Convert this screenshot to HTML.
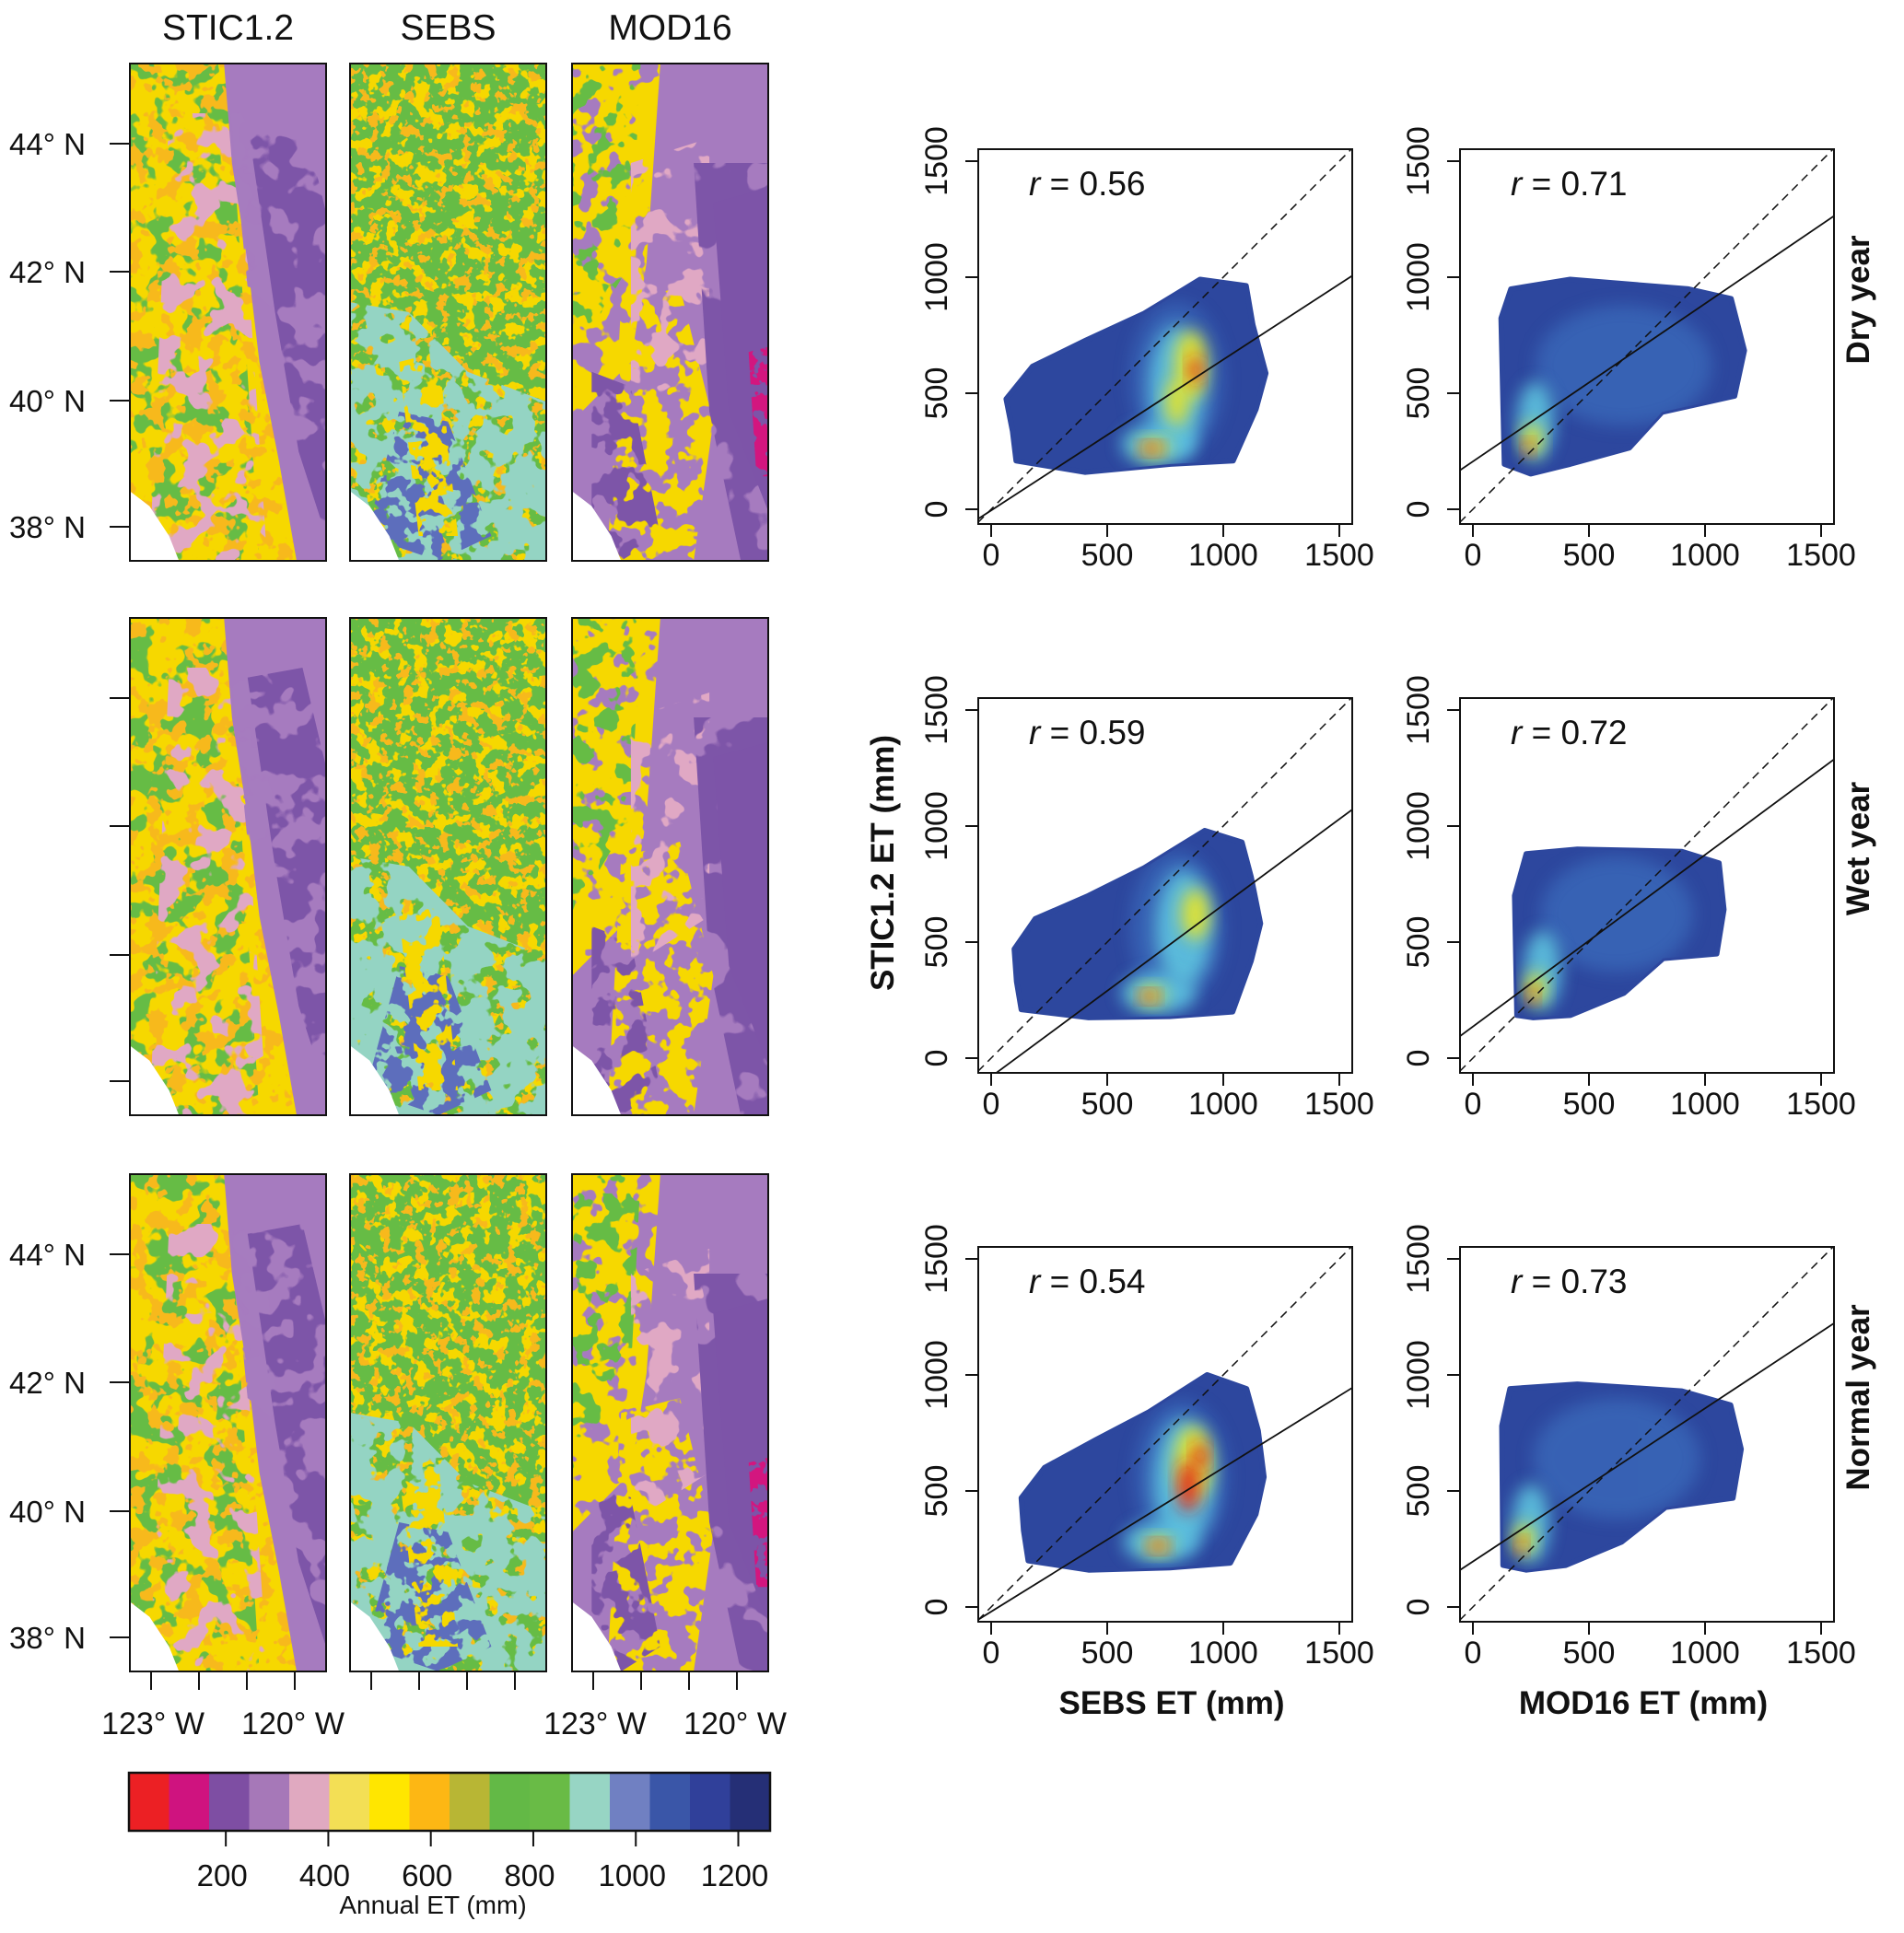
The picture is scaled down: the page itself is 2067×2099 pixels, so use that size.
<!DOCTYPE html>
<html><head><meta charset="utf-8"><title>ET comparison</title>
<style>
html,body{margin:0;padding:0;background:#fff;}
svg{display:block;font-family:"Liberation Sans",Arial,sans-serif;}
</style></head>
<body>
<svg id="fig" width="2067" height="2099" viewBox="0 0 2067 2099" xmlns="http://www.w3.org/2000/svg">
<defs>
<filter id="blur" x="-50%" y="-50%" width="200%" height="200%"><feGaussianBlur stdDeviation="9"/></filter>
</defs>
</svg>
<script>
// ---------- DATA ----------
const mapTitles = ["STIC1.2","SEBS","MOD16"];
const latLabels = ["44° N","42° N","40° N","38° N"];
const lonLabels = ["123° W","120° W"];
const cbColors = ["#ec2024","#cf137f","#7e4ea3","#a678b8","#e0a9c0","#f3df55","#ffe600","#fdb714","#b8b634","#63b946","#69bb46","#97d5c4","#7080c2","#3a56a8","#30409a","#252f76"];
const cbTickValues = [200,400,600,800,1000,1200];
const cbMin = 11, cbMax = 1262;
const axisTicks = [0,500,1000,1500];
const rowLabels = ["Dry year","Wet year","Normal year"];
const rValues = [["0.56","0.71"],["0.59","0.72"],["0.54","0.73"]];
const fitSlope = [[0.65,0.68],[0.74,0.74],[0.62,0.66]];
const fitIntercept = [[-5,206],[-80,136],[-20,196]];
const cloud00 = [[65,475],[178,615],[405,726],[660,844],[900,990],[1098,963],[1127,795],[1183,586],[1141,432],[1042,209],[773,195],[405,160],[108,209],[93,335]];
const cloud01 = [[136,195],[122,823],[164,949],[419,990],[928,949],[1112,907],[1169,684],[1127,488],[815,419],[674,265],[419,195],[249,153]];
const cloud10 = [[100,470],[190,600],[420,700],[660,820],[920,980],[1080,930],[1120,780],[1160,580],[1120,420],[1040,200],[770,180],[420,175],[130,210],[110,330]];
const cloud11 = [[190,185],[180,700],[230,880],[450,900],[900,890],[1060,840],[1081,640],[1050,450],[820,430],[650,280],[420,185],[260,175]];
const cloud20 = [[130,470],[230,600],[450,720],[680,840],[930,1000],[1100,940],[1150,760],[1175,560],[1140,400],[1030,190],[770,170],[420,160],[160,200],[140,330]];
const cloud21 = [[130,180],[125,780],[160,940],[450,960],[900,930],[1110,870],[1155,680],[1120,470],[830,430],[640,280],[400,180],[230,160]];
const clouds = [[cloud00,cloud01],[cloud10,cloud11],[cloud20,cloud21]];
// hot spots: [x, y, rx, ry, level]
const hot00 = [[800,560,200,330,0],[800,520,120,270,1],[720,280,160,90,1],[860,620,70,150,2],[800,460,50,100,2],[880,600,28,60,3],[700,265,70,40,2],[690,262,40,22,3]];
const hot01 = [[650,620,380,260,0],[270,380,80,170,1],[255,300,45,70,2],[238,265,20,28,3]];
const hot10 = [[800,560,200,330,0],[830,560,120,250,1],[720,280,160,90,1],[880,620,60,110,2],[690,270,60,40,2],[680,265,35,22,3]];
const hot11 = [[620,620,330,250,0],[300,380,80,170,1],[270,300,45,70,2],[258,270,20,28,3]];
const hot20 = [[820,560,200,330,0],[830,540,130,270,1],[730,280,160,90,1],[870,620,80,160,2],[850,520,45,110,3],[900,650,30,60,3],[720,265,60,38,2],[720,262,38,22,3]];
const hot21 = [[620,640,360,260,0],[250,360,80,170,1],[220,290,45,70,2],[210,262,20,28,3]];
const hots = [[hot00,hot01],[hot10,hot11],[hot20,hot21]];
const hotColors = ["#3f78c6","#5ec4df","#ece624","#e31f1c"];

// ---------- HELPERS ----------
const svg = document.getElementById('fig');
const NS = "http://www.w3.org/2000/svg";
const defs = svg.querySelector('defs');
function mk(tag, attrs, parent){
  const e = document.createElementNS(NS, tag);
  for (const k in attrs) e.setAttribute(k, attrs[k]);
  (parent||svg).appendChild(e);
  return e;
}
function txt(s, attrs, parent){ const e = mk('text', attrs, parent); e.textContent = s; return e; }

let fid = 0;
function mottle(freq, seed, coverage){
  const id = 'mf' + (fid++);
  const f = mk('filter', {id:id, x:'-5%', y:'-5%', width:'110%', height:'110%'}, defs);
  mk('feTurbulence', {type:'fractalNoise', baseFrequency:freq, numOctaves:'3', seed:seed, result:'n'}, f);
  const b = 0.5 + (coverage-0.5)*0.35;
  mk('feColorMatrix', {in:'n', type:'matrix', values:'0 0 0 0 0 0 0 0 0 0 0 0 0 0 0 0 0 0 -30 '+(30*b).toFixed(2), result:'a'}, f);
  mk('feComposite', {in:'SourceGraphic', in2:'a', operator:'in'}, f);
  return 'url(#'+id+')';
}

// ---------- MAPS ----------
const mapCols = [141,380,621];
const mapRows = [69,671,1275];
const mapW = 213, mapH = 540;
const Y = '#f6d800', G = '#66bc45', O = '#f7b91e', P = '#a67bbf', DP = '#7d54a8', PK = '#e0a8c4', CY = '#94d4c3', BL = '#5d6ebc', MG = '#d3157f';

function poly(g, pts, fill, x, y, filt){
  const p = mk('polygon', {points: pts.map(q => (x+q[0]*mapW).toFixed(1)+','+(y+q[1]*mapH).toFixed(1)).join(' '), fill: fill}, g);
  if (filt) p.setAttribute('filter', filt);
  return p;
}
function drawMap(kind, x, y, r){
  const g = mk('g', {});
  
  
  const cid = 'clip'+kind+'_'+r;
  const cp = mk('clipPath', {id:cid}, defs);
  mk('rect', {x:x, y:y, width:mapW, height:mapH}, cp);
  g.setAttribute('clip-path', 'url(#'+cid+')');
  const s = 10 + kind*7 + r*3;
  const full = [[0,0],[1,0],[1,1],[0,1]];
  if (kind === 0){
    poly(g, full, Y, x, y);
    poly(g, [[0,0],[0.5,0],[0.66,1],[0,1]], G, x, y, mottle(0.03, s, 0.45));
    poly(g, full, O, x, y, mottle(0.05, s+1, 0.35));
    poly(g, [[0.2,0.1],[0.55,0.1],[0.7,1],[0.1,1]], PK, x, y, mottle(0.03, s+2, 0.3));
    poly(g, [[0.48,0],[1,0],[1,1],[0.85,1],[0.76,0.8],[0.66,0.6],[0.6,0.4],[0.52,0.2]], P, x, y);
    poly(g, [[0.5,0.05],[0.7,0.2],[0.75,0.5],[0.6,0.45],[0.55,0.25]], P, x, y, mottle(0.03, s+6, 0.6));
    poly(g, [[0.6,0.12],[0.88,0.1],[1,0.3],[1,0.95],[0.86,0.78],[0.74,0.5]], DP, x, y, mottle(0.025, s+3, 0.65));
  } else if (kind === 1){
    poly(g, full, G, x, y);
    poly(g, full, Y, x, y, mottle(0.06, s, 0.35));
    poly(g, full, O, x, y, mottle(0.08, s+1, 0.25));
    poly(g, [[0,0.48],[0.3,0.5],[0.6,0.62],[1,0.68],[1,1],[0,1]], CY, x, y, mottle(0.04, s+2, 0.75));
    poly(g, [[0.25,0.7],[0.5,0.72],[0.72,0.95],[0.45,1],[0.08,0.95]], BL, x, y, mottle(0.05, s+3, 0.55));
    poly(g, [[0.25,0.6],[0.45,0.58],[0.55,0.95],[0.35,0.95]], Y, x, y, mottle(0.05, s+4, 0.45));
  } else {
    poly(g, full, P, x, y);
    poly(g, [[0,0],[0.45,0],[0.38,0.4],[0.3,0.6],[0,0.72]], Y, x, y, mottle(0.035, s, 0.8));
    poly(g, [[0,0],[0.35,0],[0.3,0.4],[0,0.6]], G, x, y, mottle(0.04, s+1, 0.35));
    poly(g, [[0.25,0.48],[0.55,0.45],[0.72,0.72],[0.62,1],[0.18,1]], Y, x, y, mottle(0.04, s+2, 0.55));
    poly(g, [[0.3,0.2],[0.7,0.15],[0.7,0.6],[0.3,0.7]], PK, x, y, mottle(0.03, s+3, 0.3));
    poly(g, [[0.62,0.2],[1,0.2],[1,1],[0.86,1],[0.7,0.7]], DP, x, y, mottle(0.02, s+7, 0.8));
    poly(g, [[0.72,0.28],[1,0.25],[1,0.9],[0.8,0.7]], DP, x, y);
    poly(g, [[0.1,0.62],[0.3,0.65],[0.45,0.95],[0.25,1],[0.1,0.9]], DP, x, y, mottle(0.035, s+4, 0.5));
    if (r !== 1) poly(g, [[0.9,0.58],[1,0.57],[1,0.83],[0.94,0.83]], MG, x, y, mottle(0.06, s+5, 0.75));
  }
  poly(g, [[0,0.86],[0.1,0.89],[0.2,0.95],[0.25,1],[0,1]], '#ffffff', x, y);
  mk('rect', {x:x, y:y, width:mapW, height:mapH, fill:'none', stroke:'#111', 'stroke-width':2});
}
mapTitles.forEach((t,i) => {
  const e = txt(t, {x: mapCols[i]+mapW/2, y: 43, 'text-anchor':'middle', 'font-size':39, fill:'#111'});
  
  
});
for (let r=0;r<3;r++) for (let k=0;k<3;k++) drawMap(k, mapCols[k], mapRows[r], r);

const latOffsets = [87,226,366,503];
for (let r=0;r<3;r++){
  latOffsets.forEach((o,i) => {
    const yy = mapRows[r]+o;
    const tk = mk('line', {x1:119, x2:141, y1:yy, y2:yy, stroke:'#111', 'stroke-width':2});
    
    
    if (r !== 1){
      const e = txt(latLabels[i], {x: 10, y: yy+12, 'font-size':33, fill:'#111'});
      
      
    }
  });
}
const lonOffsets = [23,75,127,179];
mapCols.forEach((cx,k) => {
  lonOffsets.forEach(o => {
    const tk = mk('line', {x1:cx+o, x2:cx+o, y1:1815, y2:1835, stroke:'#111', 'stroke-width':2});
    
    
  });
  if (k !== 1){
    [0,1].forEach(j => {
      const e = txt(lonLabels[j], {x: cx + (j===0 ? 25 : 177), y: 1883, 'text-anchor':'middle', 'font-size':34, fill:'#111'});
      
      
    });
  }
});

// ---------- COLORBAR ----------
const cbX = 140, cbW = 696, cbY = 1925, cbH = 63;
const cbScale = v => cbX + (v - cbMin)/(cbMax - cbMin)*cbW;
const cellW = cbW / cbColors.length;
cbColors.forEach((c,i) => {
  const e = mk('rect', {x: cbX + i*cellW, y: cbY, width: cellW+0.5, height: cbH, fill: c});
  
  
});
mk('rect', {x:cbX, y:cbY, width:cbW, height:cbH, fill:'none', stroke:'#111', 'stroke-width':2.5});
cbTickValues.forEach(v => {
  const xx = cbScale(v);
  mk('line', {x1:xx, x2:xx, y1:cbY+cbH, y2:cbY+cbH+17, stroke:'#111', 'stroke-width':2});
  const e = txt(String(v), {x: xx-4, y: 2048, 'text-anchor':'middle', 'font-size':33, fill:'#111'});
  
  
});
{
  const e = txt('Annual ET (mm)', {x: 470, y: 2078, 'text-anchor':'middle', 'font-size':28, fill:'#111'});
  
  
}

// ---------- SCATTER PANELS ----------
const panelLefts = [1062,1585];
const panelTops = [162,758,1354];
const boxW = 406, boxH = 407;
const pxPerUnit = 378/1500;
const dMin = -57, dMax = 1555;
for (let r=0;r<3;r++) for (let c=0;c<2;c++){
  const L = panelLefts[c], T = panelTops[r];
  const sx = v => L + 14 + v*pxPerUnit;
  const sy = v => T + 391 - v*pxPerUnit;
  const g = mk('g', {});
  
  
  const cid = 'pclip'+r+c;
  const cp = mk('clipPath', {id:cid}, defs);
  mk('rect', {x:L, y:T, width:boxW, height:boxH}, cp);
  const inner = mk('g', {'clip-path':'url(#'+cid+')'}, g);
  const cl = clouds[r][c];
  const ptsStr = cl.map(p => sx(p[0]).toFixed(1)+','+sy(p[1]).toFixed(1)).join(' ');
  const ccid = 'cclip'+r+c;
  const ccp = mk('clipPath', {id:ccid}, defs);
  mk('polygon', {points: ptsStr}, ccp);
  const cloud = mk('polygon', {points: ptsStr, fill:'#2d479e', stroke:'#2d479e', 'stroke-width':6, 'stroke-linejoin':'round'}, inner);
  
  
  const hg = mk('g', {'clip-path':'url(#'+ccid+')'}, inner);
  hots[r][c].forEach(h => {
    const e = mk('ellipse', {cx: sx(h[0]), cy: sy(h[1]), rx: h[2]*pxPerUnit, ry: h[3]*pxPerUnit, fill: hotColors[h[4]], filter:'url(#blur)', opacity: h[4]===0?0.55:0.9}, hg);
    
    
  });
  const one = mk('line', {x1:sx(dMin), y1:sy(dMin), x2:sx(dMax), y2:sy(dMax), stroke:'#111', 'stroke-width':1.5, 'stroke-dasharray':'9,6'}, inner);
  
  
  const m = fitSlope[r][c], b = fitIntercept[r][c];
  const fit = mk('line', {x1:sx(dMin), y1:sy(b+m*dMin), x2:sx(dMax), y2:sy(b+m*dMax), stroke:'#111', 'stroke-width':1.8}, inner);
  
  
  mk('rect', {x:L, y:T, width:boxW, height:boxH, fill:'none', stroke:'#111', 'stroke-width':2}, g);
  axisTicks.forEach(v => {
    mk('line', {x1:L-14, x2:L, y1:sy(v), y2:sy(v), stroke:'#111', 'stroke-width':2}, g);
    const yl = txt(String(v), {x:0, y:0, 'text-anchor':'middle', 'font-size':34, fill:'#111', transform:'translate('+(L-34)+','+sy(v)+') rotate(-90)'}, g);
    
    
    mk('line', {x1:sx(v), x2:sx(v), y1:T+boxH, y2:T+boxH+14, stroke:'#111', 'stroke-width':2}, g);
    const xl = txt(String(v), {x:sx(v), y:T+boxH+45, 'text-anchor':'middle', 'font-size':34, fill:'#111'}, g);
    
    
  });
  const rt = mk('text', {x: L+55, y: T+50, 'font-size':37, fill:'#111'}, g);
  
  
  const ri = mk('tspan', {'font-style':'italic'}, rt); ri.textContent = 'r';
  const rv = mk('tspan', {}, rt); rv.textContent = ' = ' + rValues[r][c];
}
rowLabels.forEach((t,r) => {
  const cy = panelTops[r] + boxH/2 - 40;
  const e = txt(t, {x:0, y:0, 'text-anchor':'middle', 'font-size':35, 'font-weight':'bold', fill:'#111', transform:'translate(2029,'+cy+') rotate(-90)'});
  
  
});
{
  const e = txt('STIC1.2 ET (mm)', {x:0, y:0, 'text-anchor':'middle', 'font-size':35, 'font-weight':'bold', fill:'#111', transform:'translate(970,937) rotate(-90)'});
  
  
  const a = txt('SEBS ET (mm)', {x:1272, y:1861, 'text-anchor':'middle', 'font-size':35, 'font-weight':'bold', fill:'#111'});
  
  
  const b = txt('MOD16 ET (mm)', {x:1784, y:1861, 'text-anchor':'middle', 'font-size':35, 'font-weight':'bold', fill:'#111'});
  
  
}
</script>
</body></html>
